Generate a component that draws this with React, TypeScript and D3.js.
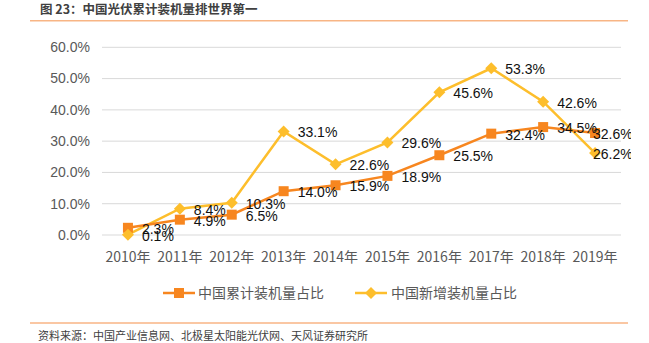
import React from "react";
import * as d3 from "d3";

const years = ["2010年", "2011年", "2012年", "2013年", "2014年", "2015年", "2016年", "2017年", "2018年", "2019年"];
const cumulative = [2.3, 4.9, 6.5, 14.0, 15.9, 18.9, 25.5, 32.4, 34.5, 32.6];
const newAdded = [0.1, 8.4, 10.3, 33.1, 22.6, 29.6, 45.6, 53.3, 42.6, 26.2];
const yTicks = [0, 10, 20, 30, 40, 50, 60];
const seriesNames = ["中国累计装机量占比", "中国新增装机量占比"];
const titleText = "图 23：中国光伏累计装机量排世界第一";
const sourceText = "资料来源：中国产业信息网、北极星太阳能光伏网、天风证券研究所";

const ORANGE = "#F7861F";
const YELLOW = "#FDBE2C";
const FONT = "'Liberation Sans', Arial, 'Noto Sans CJK SC', sans-serif";
const CJK = "'Noto Sans CJK SC', sans-serif";

export default function App() {
  const W = 649, H = 343;
  const x = d3.scaleBand().domain(years).range([102, 621]);
  const y = d3.scaleLinear().domain([0, 60]).range([235, 47.3]);
  const cx = (i: number) => (x(years[i]) as number) + x.bandwidth() / 2;
  const line = d3.line<number>().x((_, i) => cx(i)).y((d) => y(d));
  const diamond = (px: number, py: number, r: number) => `M${px},${py - r}L${px + r},${py}L${px},${py + r}L${px - r},${py}Z`;
  const last = years.length - 1;
  const lx = (i: number) => (i === last ? cx(i) - 2 : cx(i) + 14);

  return (
    <svg width={W} height={H} style={{ position: "absolute", left: 0, top: 0, background: "#fff" }}>
      <defs>
        <clipPath id="lblclip">
          <rect x={0} y={0} width={631} height={H} />
        </clipPath>
      </defs>
      <text x={40} y={14} fontFamily={CJK} fontSize={12.5} fontWeight={700} fill="#404040">{titleText}</text>
      <line x1={30} x2={628} y1={20.7} y2={20.7} stroke="#F8B585" strokeWidth={1.5} />

      {yTicks.map((t) => (
        <g key={t}>
          <line x1={102} x2={621} y1={y(t)} y2={y(t)} stroke="#D9D9D9" strokeWidth={1} />
          <text x={90} y={y(t)} dy="0.35em" textAnchor="end" fontFamily={FONT} fontSize={14} fill="#595959">{t.toFixed(1)}%</text>
        </g>
      ))}
      {years.map((yr, i) => (
        <text key={yr} x={cx(i)} y={257.5} dy="0.35em" textAnchor="middle" fontFamily={CJK} fontSize={14} fill="#595959">{yr}</text>
      ))}

      <path d={line(newAdded) as string} fill="none" stroke={YELLOW} strokeWidth={2.5} />
      <path d={line(cumulative) as string} fill="none" stroke={ORANGE} strokeWidth={2.5} />
      {cumulative.map((v, i) => (
        <rect key={"c" + i} x={cx(i) - 5} y={y(v) - 5} width={10} height={10} fill={ORANGE} />
      ))}
      {newAdded.map((v, i) => (
        <path key={"n" + i} d={diamond(cx(i), y(v), 6)} fill={YELLOW} />
      ))}
      <g clipPath="url(#lblclip)">
        {newAdded.map((v, i) => (
          <text key={"nl" + i} x={lx(i)} y={y(v) + 1} dy="0.35em" fontFamily={FONT} fontSize={14} fill="#111">{v.toFixed(1)}%</text>
        ))}
        {cumulative.map((v, i) => (
          <text key={"cl" + i} x={lx(i)} y={y(v) + 1} dy="0.35em" fontFamily={FONT} fontSize={14} fill="#111">{v.toFixed(1)}%</text>
        ))}
      </g>

      <line x1={163} x2={195} y1={293} y2={293} stroke={ORANGE} strokeWidth={2.5} />
      <rect x={174} y={288} width={10} height={10} fill={ORANGE} />
      <text x={198} y={293} dy="0.35em" fontFamily={CJK} fontSize={14} fill="#595959">{seriesNames[0]}</text>
      <line x1={355} x2={387} y1={293} y2={293} stroke={YELLOW} strokeWidth={2.5} />
      <path d={diamond(371, 293, 6)} fill={YELLOW} />
      <text x={391} y={293} dy="0.35em" fontFamily={CJK} fontSize={14} fill="#595959">{seriesNames[1]}</text>

      <line x1={30} x2={628} y1={323} y2={323} stroke="#F8B585" strokeWidth={1.5} />
      <text x={38} y={336} dy="0.35em" fontFamily={CJK} fontSize={11} fill="#404040">{sourceText}</text>
    </svg>
  );
}
